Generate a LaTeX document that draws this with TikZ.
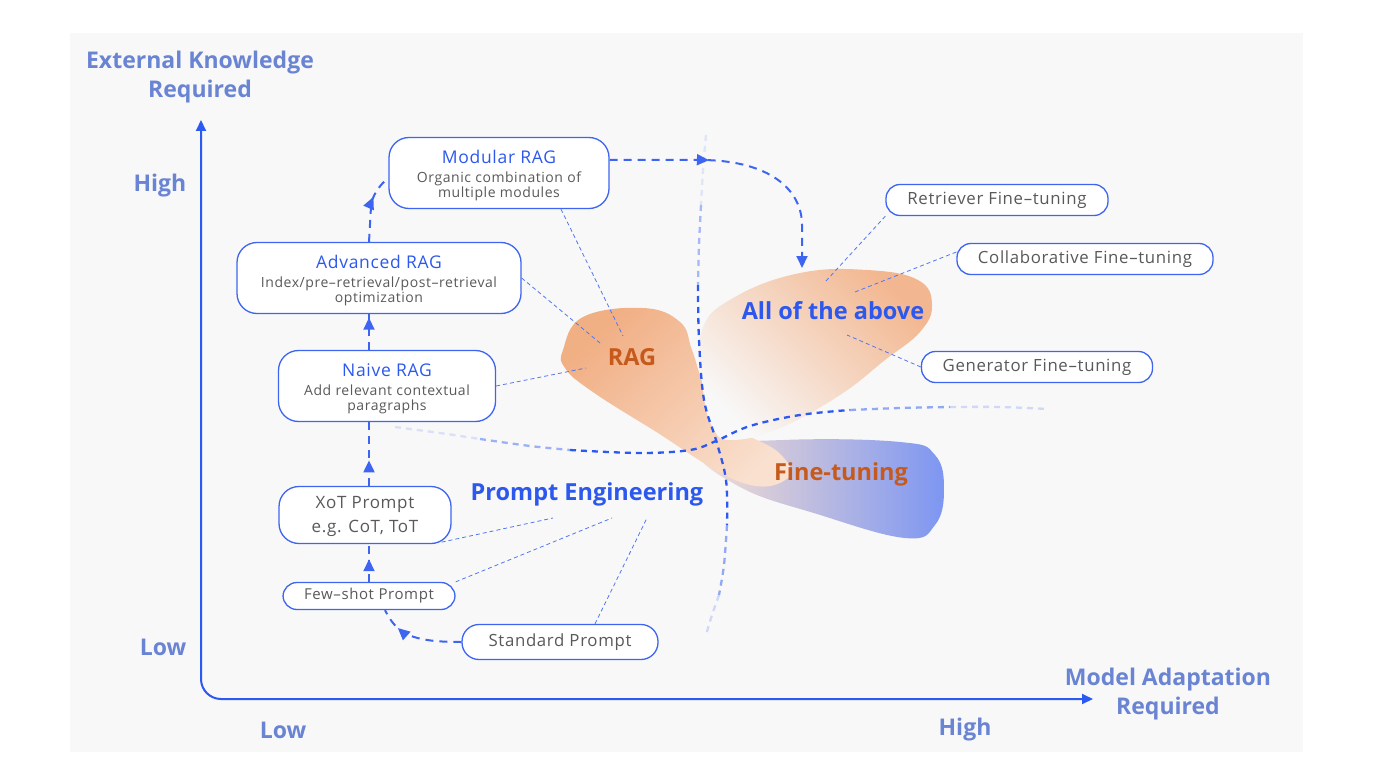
\documentclass[tikz,border=0pt]{standalone}
\usepackage{fontspec}
\setmainfont{Open Sans}[LetterSpace=4]
\newfontfamily\plainfont{Open Sans}
\usetikzlibrary{arrows.meta,decorations.markings}

\definecolor{bgray}{HTML}{F8F8F8}
\definecolor{axisblue}{HTML}{2B59F2}
\definecolor{labelblue}{HTML}{6A84D4}
\definecolor{boxblue}{HTML}{3D65F1}
\definecolor{titleblue}{HTML}{2C58EE}
\definecolor{textgray}{HTML}{595959}
\definecolor{ragorange}{HTML}{C65A1C}
\definecolor{blobor}{HTML}{F1AF84}
\definecolor{blobpeach}{HTML}{F9E0CF}
\definecolor{blobbl}{HTML}{7D96F2}
\definecolor{linkblue}{HTML}{5277F2}

\begin{document}
\begin{tikzpicture}[x=1pt, y=-1pt,
  box/.style={draw=boxblue, line width=1.3pt, fill=white, rounded corners=20pt, align=center, text=textgray, inner sep=0pt, font=\fontsize{14}{15}\selectfont},
  pill/.style={draw=boxblue, line width=1.3pt, fill=white, rounded corners=14pt, text=textgray, inner sep=0pt, font=\fontsize{16.8}{19}\selectfont},
  flow/.style={draw=boxblue, line width=2pt, dash pattern=on 8pt off 6pt},
  link/.style={draw=linkblue, line width=0.8pt, dash pattern=on 4pt off 3pt},
  sep/.style={draw=axisblue, line width=2.3pt, dash pattern=on 6pt off 5pt},
  midtip/.style={postaction={decorate}, decoration={markings, mark=at position #1 with {\arrow{Triangle[length=12pt,width=11pt]}}}},
  axislabel/.style={text=labelblue, font=\plainfont\bfseries\fontsize{23}{29}\selectfont, align=center},
  biglabel/.style={font=\plainfont\bfseries\fontsize{23.5}{27}\selectfont}]

\useasboundingbox (0,0) rectangle (1374,773);
\fill[bgray] (70,33) rectangle (1303,752);

% blobs
\shade[left color=blobpeach, right color=blobbl] plot[smooth cycle, tension=0.7] coordinates {(700,450) (783,440) (900,442) (935,455) (944,490) (935,525) (905,538) (817,514) (740,487)};
\shade[top color=blobor, bottom color=blobpeach, shading angle=45] plot[smooth cycle, tension=0.7] coordinates {(563,350) (583,317) (643,308) (680,322) (692,350) (706,390) (730,425) (778,452) (788,478) (740,482) (650,428) (590,390) (565,368)};
\shade[top color=blobor!90!white, middle color=blobor!25!bgray, bottom color=bgray, shading angle=-45] plot[smooth cycle, tension=0.7] coordinates {(702,330) (735,297) (800,273) (867,270) (918,280) (932,305) (920,332) (885,360) (840,395) (780,428) (732,440) (713,428) (703,390)};

% separators
\draw[sep, opacity=0.12] plot[smooth] coordinates {(706,135) (703,170) (701,205)};
\draw[sep, opacity=0.4] plot[smooth] coordinates {(701,205) (699,245) (698,285)};
\draw[sep] plot[smooth, tension=0.6] coordinates {(698,285) (699,340) (704,400) (716,440) (726,480) (727,525)};
\draw[sep, opacity=0.5] plot[smooth] coordinates {(727,525) (724,565) (719,595)};
\draw[sep, opacity=0.2] plot[smooth] coordinates {(719,595) (712,615) (706,635)};
\draw[sep, opacity=0.15] plot[smooth] coordinates {(395,427) (440,433) (480,439)};
\draw[sep, opacity=0.45] plot[smooth] coordinates {(480,439) (530,446) (570,450)};
\draw[sep] plot[smooth, tension=0.6] coordinates {(570,450) (640,453) (690,450) (716,441) (750,426) (800,415) (850,410)};
\draw[sep, opacity=0.5] plot[smooth] coordinates {(850,410) (900,408) (950,407)};
\draw[sep, opacity=0.2] plot[smooth] coordinates {(950,407) (1000,407) (1048,409)};

% axes
\coordinate (ytip) at (201,120);
\coordinate (xtip) at (1093,699);
\draw[draw=axisblue, line width=2pt, rounded corners=20pt, {Triangle[length=11pt,width=10pt]}-{Triangle[length=11pt,width=10pt]}] (ytip) |- (xtip);
\node[axislabel] (ylabel) at (200,77) {External Knowledge\\Required};
\node[axislabel] (yhigh) at (160,186) {High};
\node[axislabel] (ylow) at (163,647) {Low};
\node[axislabel] (xlow) at (283,730) {Low};
\node[axislabel] (xhigh) at (965,730) {High};
\node[axislabel] (xlabel) at (1168,694) {Model Adaptation\\Required};

% boxes
\node[box, minimum width=220pt, minimum height=71pt] (modular) at (499,173) {\rule{0pt}{19pt}\textcolor{titleblue}{\fontsize{17.5}{20}\selectfont Modular RAG}\\[4pt]Organic combination of\\multiple modules};
\node[box, minimum width=284pt, minimum height=71pt] (advanced) at (379,278) {\rule{0pt}{19pt}\textcolor{titleblue}{\fontsize{17.5}{20}\selectfont Advanced RAG}\\[4pt]Index/pre–retrieval/post–retrieval\\optimization};
\node[box, minimum width=217pt, minimum height=71pt] (naive) at (387,386) {\rule{0pt}{19pt}\textcolor{titleblue}{\fontsize{17.5}{20}\selectfont Naive RAG}\\[4pt]Add relevant contextual\\paragraphs};
\node[box, minimum width=172pt, minimum height=57pt, font=\fontsize{17}{24}\selectfont] (xot) at (365,515) {\rule{0pt}{15pt}XoT Prompt\\e.g. CoT, ToT};
\node[pill, minimum width=172pt, minimum height=27pt, font=\fontsize{15}{18}\selectfont] (few) at (369,596) {Few–shot Prompt};
\node[pill, minimum width=196pt, minimum height=35pt, rounded corners=17pt] (std) at (560,642) {Standard Prompt};
\node[pill, minimum width=222pt, minimum height=31pt] (retriever) at (997,200) {Retriever Fine–tuning};
\node[pill, minimum width=256pt, minimum height=31pt] (collab) at (1085,259) {Collaborative Fine–tuning};
\node[pill, minimum width=231pt, minimum height=31pt] (gen) at (1037,367) {Generator Fine–tuning};

% blob labels
\node[biglabel, text=titleblue] (pe) at (587,494) {Prompt Engineering};
\node[biglabel, text=ragorange] (rag) at (632,357) {RAG};
\node[biglabel, text=ragorange] (ft) at (841,474) {Fine-tuning};
\node[biglabel, text=titleblue] (allabove) at (833,311) {All of the above};

\coordinate (col) at (369,0);
\coordinate (ragA) at (623,336);
\coordinate (ragB) at (600,343);
\coordinate (ragC) at (586,368);
\coordinate (peA) at (553,518);
\coordinate (peB) at (612,518);
\coordinate (peC) at (647,518);
\coordinate (allA) at (826,281);
\coordinate (allB) at (855,292);
\coordinate (allC) at (847,335);
\coordinate (alltop) at (802,268);

% links
\draw[link] ([xshift=62pt]modular.south) -- (ragA);
\draw[link] (advanced.east) -- (ragB);
\draw[link] (naive.east) -- (ragC);
\draw[link] ([xshift=-10pt,yshift=2pt]xot.south east) -- (peA);
\draw[link] (few.north east) -- (peB);
\draw[link] ([xshift=35pt]std.north) -- (peC);
\draw[link] (retriever.south west) -- (allA);
\draw[link] ([yshift=7pt]collab.west) -- (allB);
\draw[link] (gen.west) -- (allC);

% flows
\draw[flow, midtip=0.75] (std.west) .. controls +(-50,0) and +(12,24) .. ([xshift=16pt]few.south);
\draw[flow, midtip=0.6] (few.north -| col) -- (xot.south -| col);
\draw[flow, midtip=0.4] (xot.north -| col) -- (naive.south -| col);
\draw[flow, midtip=0.9] (naive.north -| col) -- (advanced.south -| col);
\draw[flow, midtip=0.65] (advanced.north -| col) -- ++(2,-35) .. controls +(0,-10) and +(-8,6) .. ([yshift=-5pt]modular.west);
\draw[flow, midtip=0.37, -{Triangle[length=12pt,width=11pt]}] ([yshift=13pt]modular.east) -- (700,160) .. controls (770,160) and (802,190) .. (802,225) -- (alltop);
\end{tikzpicture}
\end{document}
